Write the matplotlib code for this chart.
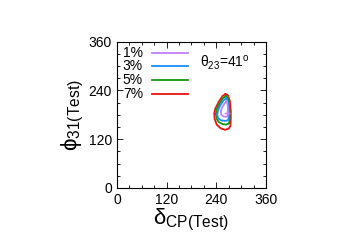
import matplotlib
matplotlib.use("Agg")
import matplotlib.pyplot as plt
from matplotlib.ticker import MultipleLocator

plt.rcParams['font.family'] = ['Liberation Sans', 'DejaVu Sans']
plt.rcParams['mathtext.fontset'] = 'custom'
plt.rcParams['mathtext.rm'] = 'Liberation Sans'
plt.rcParams['mathtext.it'] = 'Liberation Sans'

# contour outlines (delta_CP, phi_31) in degrees
red_d = [262, 255, 246, 238, 235, 236, 241, 250, 261, 270, 274, 275, 275, 273, 268, 262]
red_p = [231, 226, 212, 196, 184, 170, 156, 147, 143, 146, 152, 170, 190, 213, 228, 231]
green_d = [263, 256, 248, 241, 239, 241, 246, 255, 264, 271, 272, 272, 270, 267, 263]
green_p = [226, 221, 208, 193, 182, 170, 162, 157, 156, 159, 170, 190, 210, 222, 226]
blue_d = [264, 258, 250, 244, 242, 245, 252, 262, 269, 270, 269, 267, 264]
blue_p = [221, 216, 204, 190, 180, 171, 166, 165, 167, 180, 200, 214, 221]
purple_d = [265, 260, 254, 251, 252, 257, 264, 268, 268, 267, 265]
purple_p = [214, 208, 198, 188, 180, 176, 175, 178, 195, 208, 214]
best_fit = (267, 184)

labels = ['1%', '3%', '5%', '7%']
colors = ['#c080ff', '#1a8cff', '#109a10', '#ee1111']
ticks = [0, 120, 240, 360]

fig = plt.figure(figsize=(3.5, 2.45), dpi=100)
ax = fig.add_axes([0.334, 0.233, 0.426, 0.597])

ax.plot(red_d, red_p, color=colors[3], lw=1.3)
ax.plot(green_d, green_p, color=colors[2], lw=1.3)
ax.plot(blue_d, blue_p, color=colors[1], lw=1.3)
ax.plot(purple_d, purple_p, color=colors[0], lw=1.3)
ax.plot(*best_fit, marker='+', color=colors[0], ms=4, mew=1)

# legend, gnuplot style: label then line
rows = [0.925, 0.834, 0.735, 0.643]
for lab, col, y in zip(labels, colors, rows):
    ax.text(0.04, y, lab, transform=ax.transAxes, fontsize=10, va='center')
    ax.plot([0.235, 0.477], [y, y], transform=ax.transAxes, color=col, lw=1.3)
ax.text(0.555, 0.855, 'θ$_{23}$=41$^{\\rm o}$', transform=ax.transAxes,
        fontsize=10, va='center')

ax.set_xlim(0, 360)
ax.set_ylim(0, 360)
ax.set_xticks(ticks)
ax.set_yticks(ticks)
ax.xaxis.set_minor_locator(MultipleLocator(30))
ax.yaxis.set_minor_locator(MultipleLocator(30))
ax.tick_params(which='both', direction='in', top=True, right=True, labelsize=10)
ax.tick_params(which='major', length=4, width=0.6)
ax.tick_params(which='minor', length=2, width=0.6)
for s in ax.spines.values():
    s.set_linewidth(0.8)

ax.set_xlabel('δ$_{\\rm CP(Test)}$', fontsize=16, labelpad=0)
ax.set_ylabel('ϕ$_{\\rm 31(Test)}$', fontsize=16, labelpad=2)

fig.savefig('out.png', dpi=100)
